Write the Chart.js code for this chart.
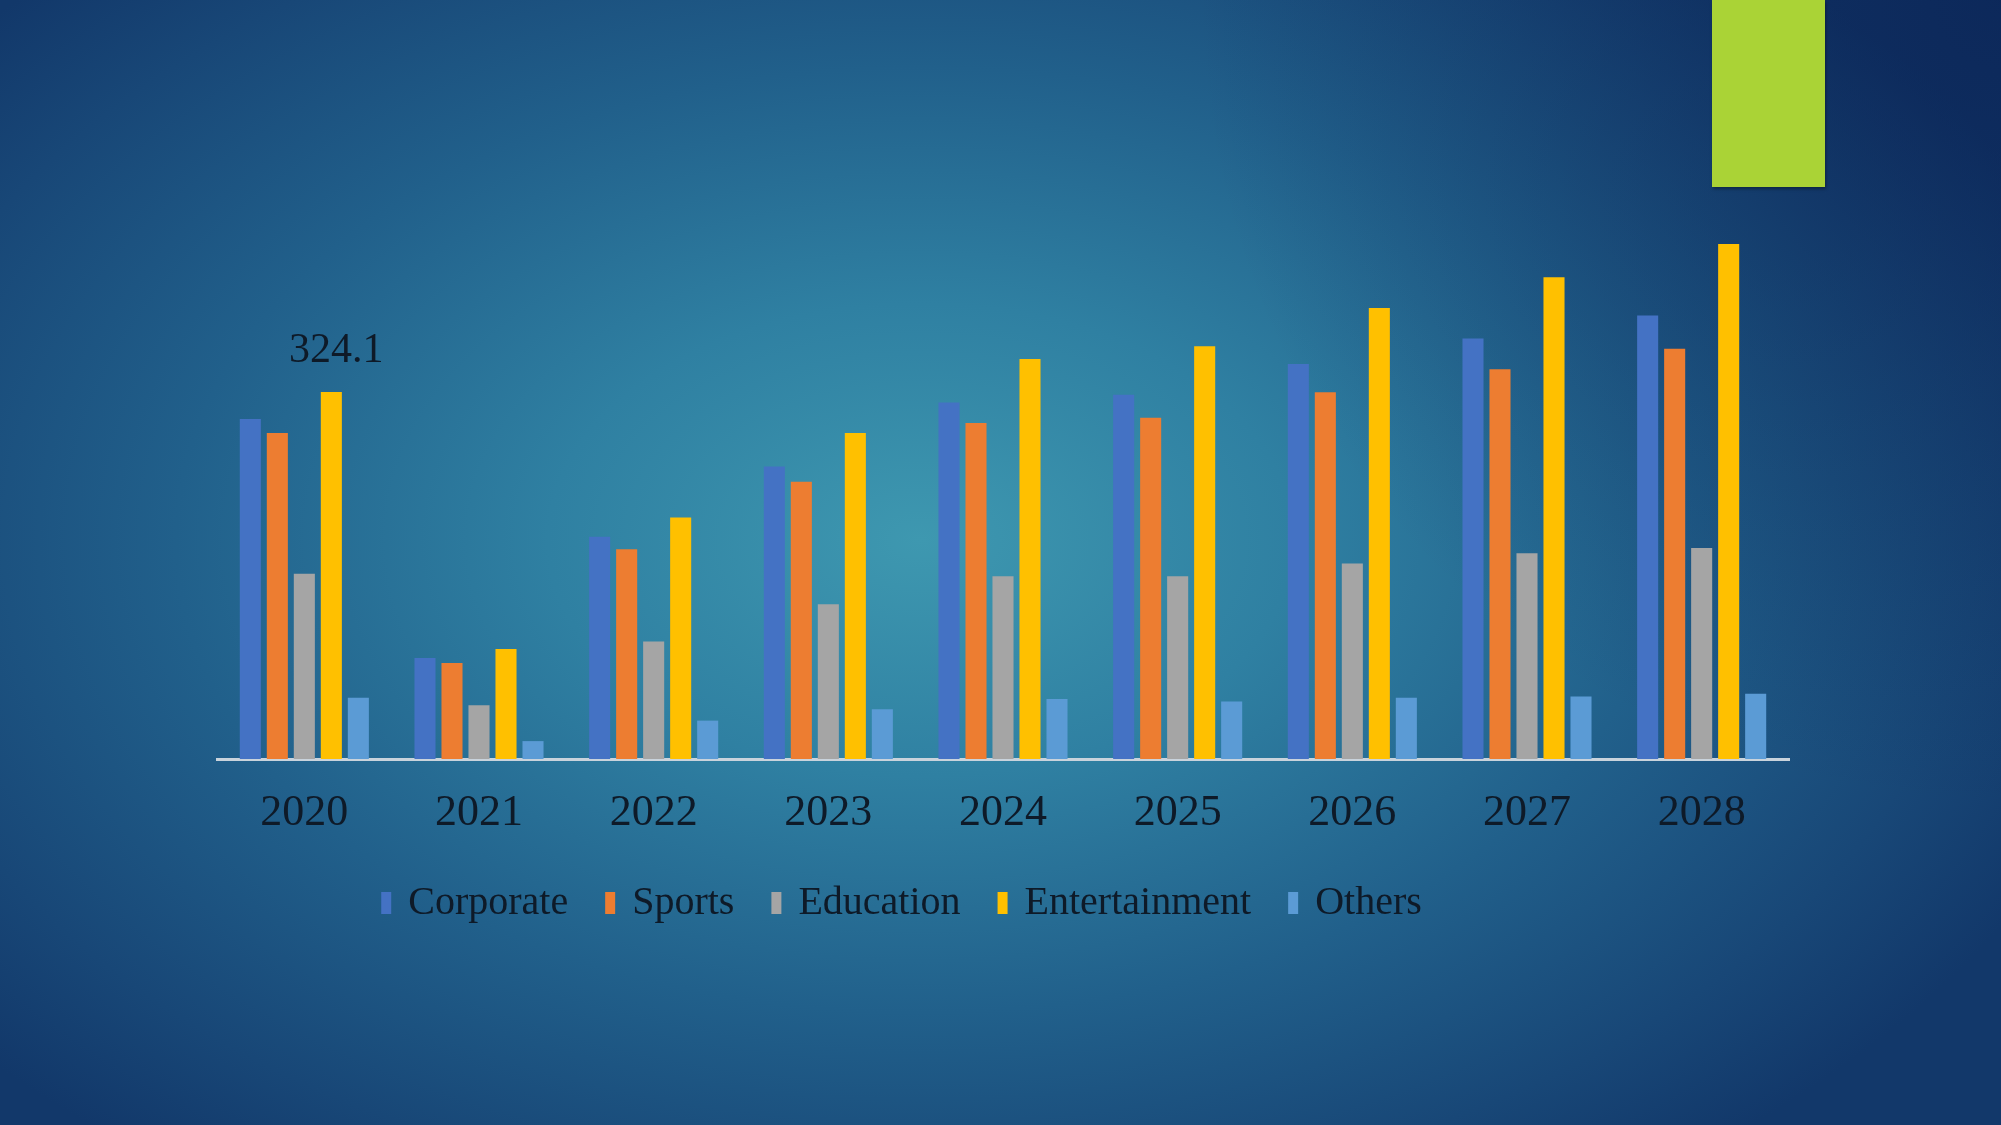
<!DOCTYPE html>
<html>
<head>
<meta charset="utf-8">
<script src="https://cdn.jsdelivr.net/npm/chart.js@4.4.1/dist/chart.umd.min.js"></script>
<style>
  html, body { margin: 0; padding: 0; }
  body {
    width: 2001px;
    height: 1125px;
    overflow: hidden;
    background:
      radial-gradient(circle at 100% 0%, rgba(8, 28, 78, 0.55) 0%, rgba(8, 28, 78, 0) 35%),
      radial-gradient(ellipse 62% 70% at 46% 48%, #3e98b0 0%, #2f80a2 30%, #21608b 60%, #184777 85%, #12386a 100%);
  }
  #wrap { position: absolute; left: 0; top: 0; width: 2001px; height: 1125px; }
  #tag {
    position: absolute; left: 1712px; top: 0; width: 113px; height: 187px;
    background: #aad336; box-shadow: 1px 2px 3px rgba(0, 0, 0, 0.35);
  }
</style>
</head>
<body>
<div id="wrap"><canvas id="chart"></canvas></div>
<div id="tag"></div>
<script>
const years = ['2020', '2021', '2022', '2023', '2024', '2025', '2026', '2027', '2028'];
const corporate = [300.3, 89.2, 196.4, 258.5, 315.0, 321.8, 348.9, 371.4, 391.8];
const sports = [287.9, 84.7, 185.2, 245.0, 296.9, 301.4, 324.0, 344.3, 362.4];
const education = [163.7, 47.4, 103.9, 136.6, 161.4, 161.4, 172.7, 181.8, 186.3];
const entertainment = [324.1, 97.1, 213.4, 287.9, 353.4, 364.7, 398.5, 425.6, 455.0];
const others = [54.2, 15.8, 33.9, 44.0, 53.1, 50.8, 54.2, 55.3, 57.6];
const calloutText = '324.1'; // shown above the 2020 Entertainment bar

const textColor = '#0e1a28';

// draws the single value callout above the first Entertainment bar
const calloutPlugin = {
  id: 'callout',
  afterDatasetsDraw(chart) {
    const meta = chart.getDatasetMeta(3);
    const bar = meta.data[0];
    if (!bar) return;
    const ctx = chart.ctx;
    ctx.save();
    ctx.font = '42px "Liberation Serif", serif';
    ctx.fillStyle = textColor;
    ctx.textAlign = 'center';
    ctx.textBaseline = 'middle';
    ctx.fillText(calloutText, bar.x + 5, bar.y - 41);
    ctx.restore();
  }
};

const ctx = document.getElementById('chart').getContext('2d');
const marketChart = new Chart(ctx, {
  type: 'bar',
  data: {
    labels: years,
    datasets: [
      { label: 'Corporate', data: corporate, backgroundColor: '#4472c4' },
      { label: 'Sports', data: sports, backgroundColor: '#ed7d31' },
      { label: 'Education', data: education, backgroundColor: '#a5a5a5' },
      { label: 'Entertainment', data: entertainment, backgroundColor: '#ffc000' },
      { label: 'Others', data: others, backgroundColor: '#5b9bd5' }
    ]
  },
  options: {
    responsive: true,
    maintainAspectRatio: false,
    animation: false,
    layout: {
      padding: { left: 17, right: 212, top: 193, bottom: 192 }
    },
    datasets: {
      bar: { categoryPercentage: 0.773, barPercentage: 0.78 }
    },
    scales: {
      x: {
        grid: { display: false, drawTicks: false },
        border: { display: true, color: '#c9d3dc', width: 3 },
        ticks: {
          padding: 28,
          color: textColor,
          font: { family: '"Liberation Serif", serif', size: 44 }
        },
        afterFit(scale) { scale.height = 84; }
      },
      y: {
        min: 0,
        max: 500,
        grid: { display: false },
        border: { display: false },
        ticks: { display: false },
        afterFit(scale) { scale.width = 200; } // pushes the plot right of the legend centre
      }
    },
    plugins: {
      tooltip: { enabled: false },
      legend: {
        position: 'bottom',
        labels: {
          color: textColor,
          boxWidth: 4,
          boxHeight: 16,
          padding: 40,
          font: { family: '"Liberation Serif", serif', size: 40 },
          generateLabels(chart) {
            const items = Chart.defaults.plugins.legend.labels.generateLabels(chart);
            items.forEach(item => {
              item.strokeStyle = item.fillStyle;
              item.lineWidth = 6;
            });
            return items;
          }
        }
      }
    }
  },
  plugins: [calloutPlugin]
});
</script>
</body>
</html>
